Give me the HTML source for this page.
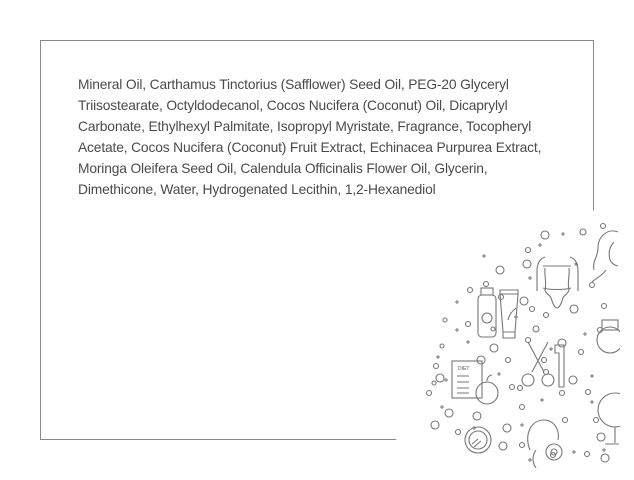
<!DOCTYPE html>
<html><head><style>
html,body{margin:0;padding:0;background:#fff;width:634px;height:480px;overflow:hidden}
#w{position:relative;width:634px;height:480px;overflow:hidden}
.box{position:absolute;left:40px;top:40px;width:552px;height:398px;border:1px solid #8a8a8a}
.t{position:absolute;left:78px;top:74px;font-family:"Liberation Sans",sans-serif;font-size:13.8px;line-height:21px;color:#4a4a4a;white-space:nowrap;letter-spacing:-0.15px}
svg{position:absolute;left:0;top:0;display:block}
</style></head><body><div id="w">
<div class="box"></div>
<div class="t">Mineral Oil, Carthamus Tinctorius (Safflower) Seed Oil, PEG-20 Glyceryl<br>Triisostearate, Octyldodecanol, Cocos Nucifera (Coconut) Oil, Dicaprylyl<br>Carbonate, Ethylhexyl Palmitate, Isopropyl Myristate, Fragrance, Tocopheryl<br>Acetate, Cocos Nucifera (Coconut) Fruit Extract, Echinacea Purpurea Extract,<br>Moringa Oleifera Seed Oil, Calendula Officinalis Flower Oil, Glycerin,<br>Dimethicone, Water, Hydrogenated Lecithin, 1,2-Hexanediol</div>
<svg width="634" height="480" viewBox="0 0 634 480">
<defs><clipPath id="c"><rect x="0" y="0" width="620" height="468"/></clipPath></defs>
<circle cx="640" cy="450" r="244" fill="#fff"/>
<g clip-path="url(#c)" fill="none" stroke="#777" stroke-width="1.1">
<g>
<circle cx="545" cy="235" r="4"/><circle cx="583" cy="232" r="3"/><circle cx="603" cy="226" r="2.5"/>
<circle cx="528" cy="250" r="2.5"/><circle cx="527" cy="264" r="4"/><circle cx="500" cy="270" r="4"/>
<circle cx="501" cy="297" r="2.5"/><circle cx="486" cy="284" r="2.5"/><circle cx="470" cy="290" r="2.5"/>
<circle cx="524" cy="301" r="4"/><circle cx="532" cy="309" r="2.5"/>
<circle cx="574" cy="309" r="4"/><circle cx="546" cy="315" r="2.5"/><circle cx="536" cy="329" r="3"/>
<circle cx="562" cy="343" r="4"/><circle cx="581" cy="352" r="2.5"/><circle cx="468" cy="324" r="2.5"/>
<circle cx="442" cy="346" r="2"/><circle cx="445" cy="320" r="2"/>
<circle cx="494" cy="348" r="4"/><circle cx="493" cy="329" r="2"/><circle cx="436" cy="366" r="2.5"/>
<circle cx="440" cy="378" r="4"/><circle cx="434" cy="383" r="2"/><circle cx="429" cy="393" r="2.5"/>
<circle cx="449" cy="413" r="4"/><circle cx="477" cy="416" r="4"/><circle cx="435" cy="425" r="4"/>
<circle cx="458" cy="432" r="2.5"/><circle cx="507" cy="428" r="4"/><circle cx="522" cy="407" r="2.5"/>
<circle cx="520" cy="388" r="2.5"/><circle cx="562" cy="393" r="2.5"/><circle cx="573" cy="380" r="4"/>
<circle cx="588" cy="392" r="2.5"/><circle cx="596" cy="420" r="2.5"/><circle cx="601" cy="437" r="4"/>
<circle cx="565" cy="420" r="2.5"/><circle cx="553" cy="455" r="2.5"/><circle cx="522" cy="445" r="2.5"/>
<circle cx="503" cy="446" r="4"/><circle cx="587" cy="454" r="2.5"/><circle cx="605" cy="458" r="4"/>
<circle cx="592" cy="285" r="2.5"/><circle cx="604" cy="306" r="2.5"/><circle cx="600" cy="330" r="2.5"/>
<circle cx="544" cy="360" r="2.5"/><circle cx="546" cy="372" r="2.5"/><circle cx="508" cy="360" r="2.5"/>
<circle cx="481" cy="360" r="4"/><circle cx="528" cy="340" r="2.5"/><circle cx="512" cy="387" r="2.5"/>
</g>
<g stroke-width="1">
<path d="M563 232v4M561 234h4M540 243v4M538 245h4M484 254v4M482 256h4M530 276v4M528 278h4M457 300v4M455 302h4M457 328v4M455 330h4M468 340v4M466 342h4M438 355v4M436 357h4M446 378v4M444 380h4M442 405v4M440 407h4M474 426v4M472 428h4M522 423v4M520 425h4M542 398v4M540 400h4M585 332v4M583 334h4M576 262v4M574 264h4M551 347v4M549 349h4M574 450v4M572 452h4M499 372v4M497 374h4M516 315v4M514 317h4M592 374v4M590 376h4M592 400v4M590 402h4M530 458v4M528 460h4M604 448v4M602 450h4"/>
</g>
<path d="M545 257c-6 2-8 8-8 14v20M570 257c6 2 8 8 8 14v20M543 266h28M545 268c-1 8 2 14 0 22 0 3 6 6 6 8 1 3 3 10 6 10s5-7 6-10c0-2 6-5 6-8-2-8 1-14 0-22"/>
<path d="M543 288c6 2 22 2 28 0"/>
<path d="M618 232c-10-4-20 4-20 16 0 10-6 12-4 22M614 242c-4 4-6 10-4 18 2 4 6 6 8 6M606 270c-4 6-10 8-14 12"/>
<rect x="478" y="295" width="18" height="42" rx="4"/><rect x="481" y="288" width="12" height="7"/>
<path d="M500 294h18l-3 38h-12zM500 290h18v4h-18zM503 332h12v6h-12z"/>
<circle cx="487" cy="318" r="5"/><path d="M508 320c2-8 6-10 8-12"/>
<circle cx="610" cy="340" r="13"/><rect x="602" y="320" width="16" height="10"/>
<rect x="452" y="361" width="30" height="37"/><text x="458" y="370" font-family="Liberation Sans,sans-serif" font-size="5" fill="#555" stroke="none">DIET</text>
<path d="M457 376h12M457 382h12M457 388h12M457 393h12"/>
<circle cx="487" cy="393" r="11"/><path d="M487 381c0-4 3-6 5-6"/>
<path d="M528 342l16 30M548 342l-16 30"/><circle cx="528" cy="380" r="6"/><circle cx="548" cy="380" r="6"/>
<path d="M555 345h9v42h-5v-34h-4z"/>
<circle cx="478" cy="440" r="13"/><circle cx="478" cy="440" r="9"/><path d="M472 444l6-5M474 447l7-6"/>
<circle cx="615" cy="410" r="17"/><path d="M615 427v16M605 444h14"/>
<path d="M530 450c-6-14 0-30 14-30 10 0 16 10 14 20M536 468c-4-6-4-12 0-18"/>
<circle cx="554" cy="452" r="8"/><circle cx="554" cy="452" r="3"/>
</g>
</svg>
</div></body></html>
